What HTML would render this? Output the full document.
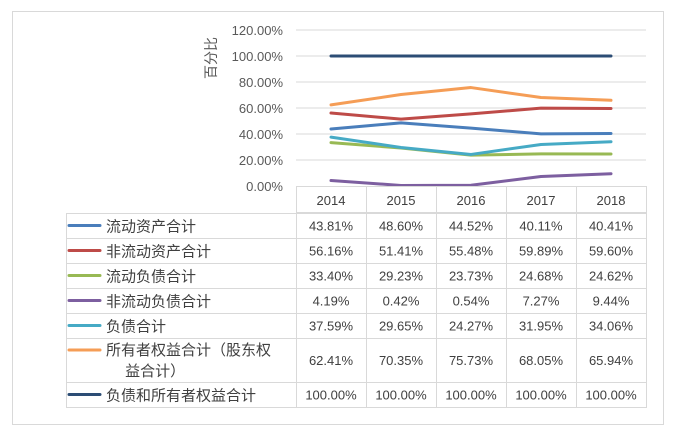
<!DOCTYPE html>
<html><head><meta charset="utf-8"><style>
body{margin:0;background:#fff}
svg text{font-family:"Liberation Sans","Noto Sans CJK SC",sans-serif}
</style></head><body>
<svg width="676" height="429" viewBox="0 0 676 429" xmlns="http://www.w3.org/2000/svg">
<rect x="12.5" y="11.5" width="651" height="413" fill="#fff" stroke="#d9d9d9"/>
<g id="grid"></g>
<g id="yticks"></g>
<text transform="translate(216,58) rotate(-90)" font-size="14" fill="#595959" text-anchor="middle">百分比</text>
<g id="lines"></g>
<g id="table"></g>
</svg>
<script>
const years = ["2014","2015","2016","2017","2018"];
const seriesNames = ["流动资产合计","非流动资产合计","流动负债合计","非流动负债合计","负债合计","所有者权益合计（股东权益合计）","负债和所有者权益合计"];
const s0 = [43.81,48.60,44.52,40.11,40.41];
const s1 = [56.16,51.41,55.48,59.89,59.60];
const s2 = [33.40,29.23,23.73,24.68,24.62];
const s3 = [4.19,0.42,0.54,7.27,9.44];
const s4 = [37.59,29.65,24.27,31.95,34.06];
const s5 = [62.41,70.35,75.73,68.05,65.94];
const s6 = [100,100,100,100,100];
const yTicks = [0,20,40,60,80,100,120];
const colors = ["#4a7ebb","#be4b48","#98b954","#7d5fa0","#46aac5","#f59d56","#2c4d75"];
const series=[s0,s1,s2,s3,s4,s5,s6];
const NS="http://www.w3.org/2000/svg";
const L=296,W=70,y0=186,k=1.3;
const X=i=>L+W*i+W/2, Y=v=>y0-v*k;
function mk(t,a,p,txt){const e=document.createElementNS(NS,t);for(const q in a)e.setAttribute(q,a[q]);if(txt!=null)e.textContent=txt;p.appendChild(e);return e;}
const g=document.getElementById('grid'),yt=document.getElementById('yticks'),lg=document.getElementById('lines'),tb=document.getElementById('table');
yTicks.forEach(v=>{
 if(v>0){const l=mk('line',{x1:L,x2:L+W*5,y1:Y(v),y2:Y(v),stroke:'#d9d9d9'},g);
 
 }
 const t=mk('text',{x:283,y:Y(v)+5,'font-size':13,fill:'#595959','text-anchor':'end'},yt,v.toFixed(2)+'%');
 
 
});
series.forEach((s,j)=>{
 const p=mk('polyline',{points:s.map((v,i)=>X(i)+','+Y(v)).join(' '),fill:'none',stroke:colors[j],'stroke-width':3,'stroke-linejoin':'round','stroke-linecap':'round'},lg);
 
 
});
// table
const rowTops=[213,238,263,288,313,338,382,407];
const st='#d9d9d9';
// header
mk('rect',{x:L+.5,y:186.5,width:W*5,height:26,fill:'none',stroke:st},tb);
for(let i=1;i<5;i++)mk('line',{x1:L+W*i+.5,x2:L+W*i+.5,y1:186,y2:407,stroke:st},tb);
years.forEach((yr,i)=>{const t=mk('text',{x:X(i),y:205,'font-size':13,fill:'#404040','text-anchor':'middle'},tb,yr);
 
 });
mk('rect',{x:66.5,y:213.5,width:L+W*5-66,height:407-213,fill:'none',stroke:st},tb);
mk('line',{x1:L+.5,x2:L+.5,y1:213,y2:407,stroke:st},tb);
for(let r=1;r<7;r++)mk('line',{x1:66,x2:L+W*5,y1:rowTops[r]+.5,y2:rowTops[r]+.5,stroke:st},tb);
series.forEach((s,j)=>{
 const top=rowTops[j],bot=rowTops[j+1],mid=(top+bot)/2;
 const ky=j===5?top+12:mid;
 const m=mk('line',{x1:69,x2:100,y1:ky,y2:ky,stroke:colors[j],'stroke-width':3,'stroke-linecap':'round'},tb);
 
 
 if(j===5){
  mk('text',{x:106,y:top+17,'font-size':15,fill:'#404040'},tb,'所有者权益合计（股东权');
  mk('text',{x:106,y:top+38,'font-size':15,fill:'#404040'},tb,'　 益合计）');
 } else {
  const t=mk('text',{x:106,y:mid+6,'font-size':15,fill:'#404040'},tb,seriesNames[j]);
  
  
 }
 s.forEach((v,i)=>{const t=mk('text',{x:X(i),y:mid+5,'font-size':13,fill:'#404040','text-anchor':'middle'},tb,v.toFixed(2)+'%');
  
  });
});
</script>
</body></html>
